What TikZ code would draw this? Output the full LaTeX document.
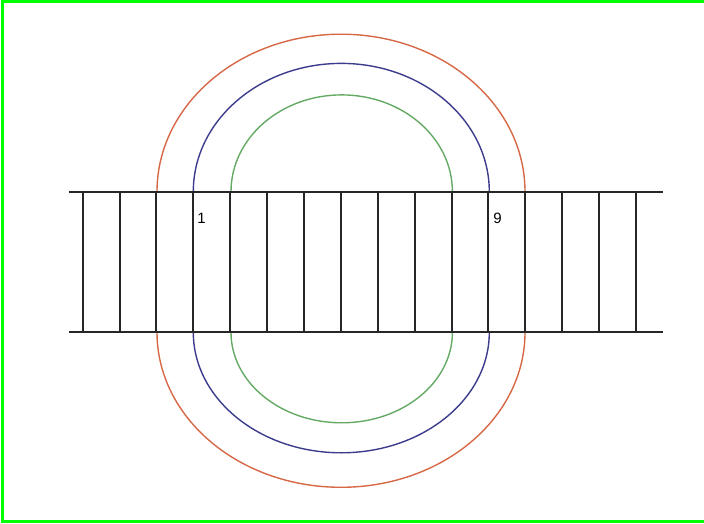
\documentclass[tikz,border=0pt]{standalone}
\usepackage{fontspec}
\setmainfont{Liberation Sans}
\definecolor{frameG}{RGB}{0,255,0}
\definecolor{arcO}{RGB}{214,104,70}
\definecolor{arcB}{RGB}{60,60,140}
\definecolor{arcG}{RGB}{100,170,100}
\tikzset{
  rail/.style={black!85, line width=2.2pt},
  rung/.style={black!85, line width=2pt},
  loop/.style={line width=1.4pt},
  edgeline/.style={frameG, line width=3pt, line cap=butt},
  lbl/.style={font=\fontsize{15}{17}\selectfont, inner sep=0pt}
}
\begin{document}
\begin{tikzpicture}[x=1pt,y=1pt]
\useasboundingbox (0,0) rectangle (704,523);
\fill[frameG] (1,519.5) rectangle (704,522.5);
\fill[frameG] (1,0.5) rectangle (704,3.5);
\fill[frameG] (1,0.5) rectangle (4,522.5);
% arcs (top halves then bottom halves)
\draw[loop, arcO] (157,331.3) arc[start angle=180, end angle=0, x radius=184, y radius=157.5];
\draw[loop, arcB] (193.3,331.3) arc[start angle=180, end angle=0, x radius=148, y radius=128.3];
\draw[loop, arcG] (231,331.3) arc[start angle=180, end angle=0, x radius=110.7, y radius=96.8];
\draw[loop, arcO] (157,190.7) arc[start angle=180, end angle=360, x radius=184, y radius=155];
\draw[loop, arcB] (193.3,190.7) arc[start angle=180, end angle=360, x radius=148, y radius=120.5];
\draw[loop, arcG] (231,190.7) arc[start angle=180, end angle=360, x radius=110.7, y radius=90.5];
% rungs
\foreach \i in {0,...,15}{
  \draw[rung] ({82.7+36.88*\i},331.3) -- ({82.7+36.88*\i},190.7);
}
% rails
\coordinate (tl) at (68.5,331.3);
\coordinate (tr) at (662.7,331.3);
\coordinate (bl) at (68.5,190.7);
\coordinate (br) at (662.7,190.7);
\draw[rail] (tl) -- (tr);
\draw[rail] (bl) -- (br);
% labels
\node[lbl] (one) at (201.5,305) {1};
\node[lbl] (nine) at (497.5,304.5) {9};
\end{tikzpicture}
\end{document}
